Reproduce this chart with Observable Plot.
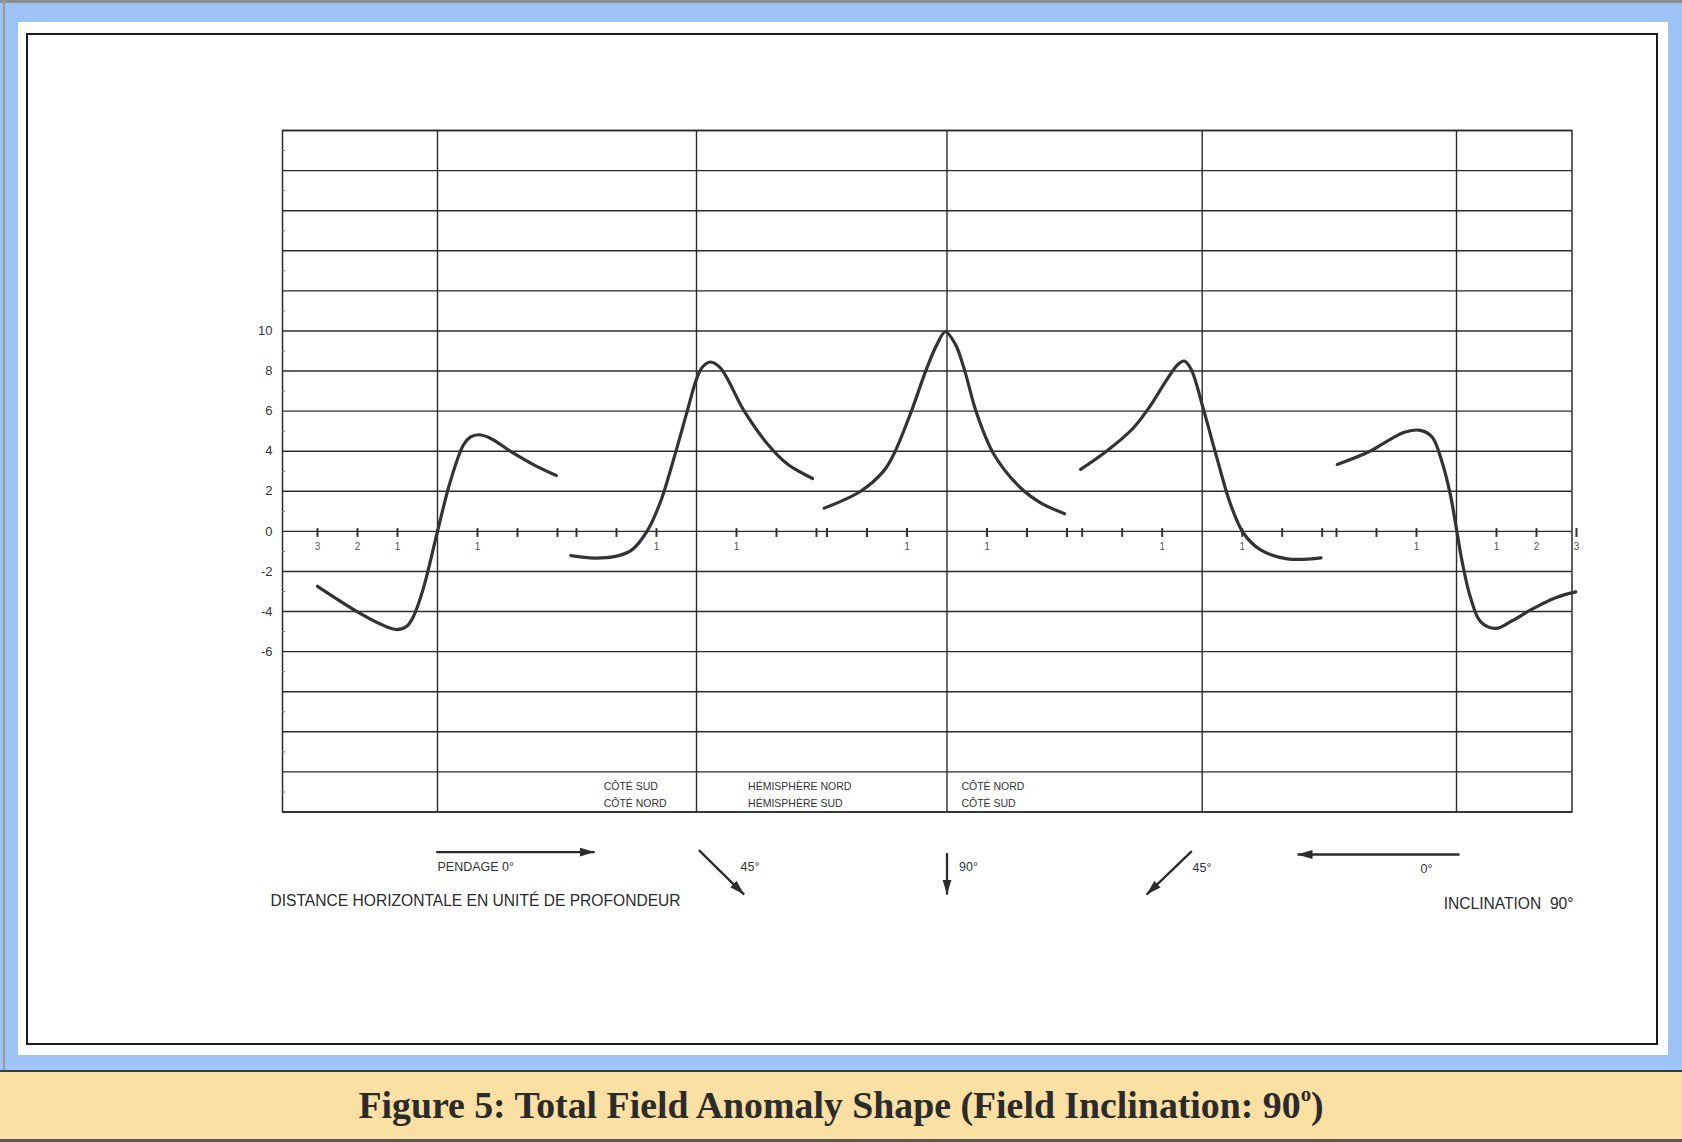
<!DOCTYPE html>
<html><head><meta charset="utf-8">
<script src="https://cdn.jsdelivr.net/npm/d3@7"></script>
<script src="https://cdn.jsdelivr.net/npm/@observablehq/plot@0.6"></script>
<style>
html,body{margin:0;padding:0}
body{width:1682px;height:1142px;position:relative;overflow:hidden;background:#9ec4f7;font-family:"Liberation Sans",Arial,sans-serif}
#topline{position:absolute;left:0;top:0;width:1682px;height:3px;background:#8d8d8d}
#leftline{position:absolute;left:3px;top:0;width:2px;height:1071px;background:#9a9a9a}
#white{position:absolute;left:18px;top:22px;width:1650px;height:1033px;background:#fff}
#frame{position:absolute;left:25.5px;top:33px;width:1632px;height:1012px;border:2.5px solid #1c1c1c;box-sizing:border-box}
#chart{position:absolute;left:0;top:0}
#caption{position:absolute;left:0;top:1070px;width:1682px;height:72px;background:#fbe0a3;border-top:2px solid #3a3a3a;border-bottom:3px solid #555;box-sizing:border-box;text-align:center;font-family:"Liberation Serif","Times New Roman",serif;font-weight:bold;font-size:37.8px;line-height:66px;color:#2b2b2b}
#caption sup{font-size:0.55em;vertical-align:0.8em;line-height:0}
</style>
</head>
<body>
<div id="topline"></div>
<div id="leftline"></div>
<div id="white"></div>
<div id="frame"></div>
<div id="chart"></div>
<div id="caption">Figure 5: Total Field Anomaly Shape (Field Inclination: 90<sup>o</sup>)</div>
<script>
// ---- data ----
const panelCenters = [0, 6.475, 12.7375, 19.1175, 25.475];
const gridY = [-14, -12, -10, -8, -6, -4, -2, 0, 2, 4, 6, 8, 10, 12, 14, 16, 18, 20];
const yTickLabels = [10, 8, 6, 4, 2, 0, -2, -4, -6];
const minorY = [-13, -11, -9, -7, -5, -3, -1, 1, 3, 5, 7, 9, 11, 13, 15, 17, 19];
const xTickOffsets = [-3, -2, -1, 1, 2, 3];
const xTickLabels = [
  [[-3, "3"], [-2, "2"], [-1, "1"], [1, "1"]],
  [[-1, "1"], [1, "1"]],
  [[-1, "1"], [1, "1"]],
  [[-1, "1"], [1, "1"]],
  [[-1, "1"], [1, "1"], [2, "2"], [3, "3"]]
];
// anomaly curves: [distance from body (depth units), anomaly]
const curve1 = [[-3.0, -2.74], [-2.02, -3.99], [-1.43, -4.62], [-1.02, -4.9], [-0.77, -4.73], [-0.6, -4.24], [-0.35, -2.82], [0, 0], [0.32, 2.49], [0.65, 4.32], [0.82, 4.7], [1.03, 4.82], [1.32, 4.65], [1.9, 3.9], [2.48, 3.24], [2.97, 2.79]];
const curve2 = [[-3.14, -1.21], [-2.56, -1.33], [-2.06, -1.26], [-1.64, -0.96], [-1.23, 0.03], [-0.89, 1.53], [-0.56, 3.68], [-0.23, 6.01], [0.0, 7.6], [0.15, 8.2], [0.34, 8.45], [0.6, 8.15], [1.19, 6.01], [1.78, 4.35], [2.28, 3.35], [2.9, 2.64]];
const curve3 = [[-3.07, 1.16], [-2.17, 1.99], [-1.58, 3.02], [-1.33, 3.85], [-0.92, 5.84], [-0.5, 8.17], [-0.25, 9.33], [-0.04, 9.96], [0.21, 9.33], [0.42, 8.17], [0.75, 5.84], [1.17, 3.85], [1.83, 2.19], [2.33, 1.44], [2.94, 0.88]];
const curve4 = [[-3.04, 3.09], [-2.41, 3.97], [-1.74, 5.12], [-1.32, 6.2], [-0.9, 7.52], [-0.62, 8.3], [-0.45, 8.5], [-0.28, 8.1], [0.03, 6.1], [0.36, 3.72], [0.7, 1.4], [1.03, -0.08], [1.45, -0.91], [2.13, -1.37], [2.97, -1.32]];
const curve5 = [[-2.98, 3.34], [-2.19, 3.97], [-1.69, 4.55], [-1.28, 4.96], [-0.9, 5.04], [-0.61, 4.71], [-0.36, 3.45], [-0.15, 1.8], [0, 0.1], [0.15, -1.6], [0.35, -3.3], [0.6, -4.5], [0.98, -4.84], [1.39, -4.46], [1.89, -3.88], [2.48, -3.31], [2.98, -3.02]];
const curves = [curve1, curve2, curve3, curve4, curve5];

// ---- annotations (panel-relative) ----
const tableLabels = [
  {panel: 1, u: -2.32, v: -12.73, text: "CÔTÉ SUD"},
  {panel: 1, u: -2.32, v: -13.57, text: "CÔTÉ NORD"},
  {panel: 1, u: 1.29, v: -12.73, text: "HÉMISPHÈRE NORD"},
  {panel: 1, u: 1.29, v: -13.57, text: "HÉMISPHÈRE SUD"},
  {panel: 2, u: 0.36, v: -12.73, text: "CÔTÉ NORD"},
  {panel: 2, u: 0.36, v: -13.57, text: "CÔTÉ SUD"}
];
const dipArrows = [
  {panel: 0, u1: -0.03, v1: -16.0, u2: 3.93, v2: -16.0},
  {panel: 1, u1: 0.06, v1: -15.9, u2: 1.19, v2: -18.12},
  {panel: 2, u1: 0, v1: -16.05, u2: 0, v2: -18.12},
  {panel: 3, u1: -0.26, v1: -15.95, u2: -1.39, v2: -18.12},
  {panel: 4, u1: 0.075, v1: -16.12, u2: -3.975, v2: -16.12}
];
const dipLabels = [
  {panel: 0, u: 0, v: -16.75, text: "PENDAGE 0°"},
  {panel: 1, u: 1.1, v: -16.72, text: "45°"},
  {panel: 2, u: 0.3, v: -16.72, text: "90°"},
  {panel: 3, u: -0.24, v: -16.77, text: "45°"},
  {panel: 4, u: -0.9, v: -16.82, text: "0°"}
];
const axisNoteLeft = [{panel: 0, u: -4.175, v: -18.46, text: "DISTANCE HORIZONTALE EN UNITÉ DE PROFONDEUR"}];
const axisNoteRight = [{panel: 4, u: 2.925, v: -18.6, text: "INCLINATION  90°"}];

// ---- derived tables ----
const lineData = curves.flatMap((c, i) => c.map(([u, v]) => ({panel: i, x: panelCenters[i] + u, y: v})));
const tickData = panelCenters.flatMap(c => xTickOffsets.map(o => ({x: c + o})));
const tickLabelData = xTickLabels.flatMap((set, i) => set.map(([o, t]) => ({x: panelCenters[i] + o, t})));
const place = d => ({...d, x: panelCenters[d.panel] + d.u});
const xDomain = [-3.875, 28.3625];
const INK = "#2b2b2b";

function filledArrow(color) {
  const m = d3.create("svg:marker")
    .attr("viewBox", "-15 -5 15 10")
    .attr("markerUnits", "userSpaceOnUse")
    .attr("markerWidth", 15).attr("markerHeight", 10)
    .attr("refX", 0).attr("refY", 0)
    .attr("orient", "auto");
  m.append("path").attr("d", "M-15,-4.5L0,0L-15,4.5Z").attr("fill", color).attr("stroke", "none");
  return m.node();
}

function build(marker) {
  return Plot.plot({
    width: 1682, height: 960,
    marginLeft: 282, marginRight: 110.5, marginTop: 130, marginBottom: 148.5,
    x: {domain: xDomain, axis: null},
    y: {domain: [-14, 20], axis: null},
    style: {background: "none", color: "#333", fontFamily: "'Liberation Sans', Arial, sans-serif", overflow: "visible"},
    marks: [
      Plot.ruleY(gridY, {stroke: INK, strokeWidth: 1.4}),
      Plot.ruleX(panelCenters, {y1: -14, y2: 20, stroke: INK, strokeWidth: 1.4}),
      Plot.frame({stroke: INK, strokeWidth: 1.5}),
      Plot.ruleY(minorY, {x1: xDomain[0], x2: xDomain[0] + 0.08, stroke: "#777", strokeWidth: 1}),
      Plot.axisY(yTickLabels, {tickSize: 0, tickPadding: 10, fontSize: 13, label: null, fill: "#333", tickFormat: d => String(d)}),
      Plot.ruleX(tickData, {x: "x", y1: 0.14, y2: -0.3, stroke: "#333", strokeWidth: 2}),
      Plot.text(tickLabelData, {x: "x", y: -0.78, text: "t", fontSize: 10, fill: "#555"}),
      Plot.line(lineData, {x: "x", y: "y", z: "panel", curve: "catmull-rom", stroke: "#333", strokeWidth: 3.2, strokeLinecap: "round", strokeLinejoin: "round"}),
      Plot.text(tableLabels.map(place), {x: "x", y: "v", text: "text", textAnchor: "start", fontSize: 10.5, fill: "#333"}),
      Plot.link(dipArrows.map(d => ({x1: panelCenters[d.panel] + d.u1, y1: d.v1, x2: panelCenters[d.panel] + d.u2, y2: d.v2})),
        {x1: "x1", y1: "y1", x2: "x2", y2: "y2", stroke: INK, strokeWidth: 2.3, markerEnd: marker}),
      Plot.text(dipLabels.map(place), {x: "x", y: "v", text: "text", textAnchor: "start", fontSize: 12.5, fill: "#333"}),
      Plot.text(axisNoteLeft.map(place), {x: "x", y: "v", text: "text", textAnchor: "start", fontSize: 15.6, fill: "#2b2b2b"}),
      Plot.text(axisNoteRight.map(place), {x: "x", y: "v", text: "text", textAnchor: "end", fontSize: 15.6, fill: "#2b2b2b"})
    ]
  });
}

let chart;
try { chart = build(filledArrow); } catch (e) { chart = build("arrow"); }
document.getElementById("chart").append(chart);
</script>
</body></html>
